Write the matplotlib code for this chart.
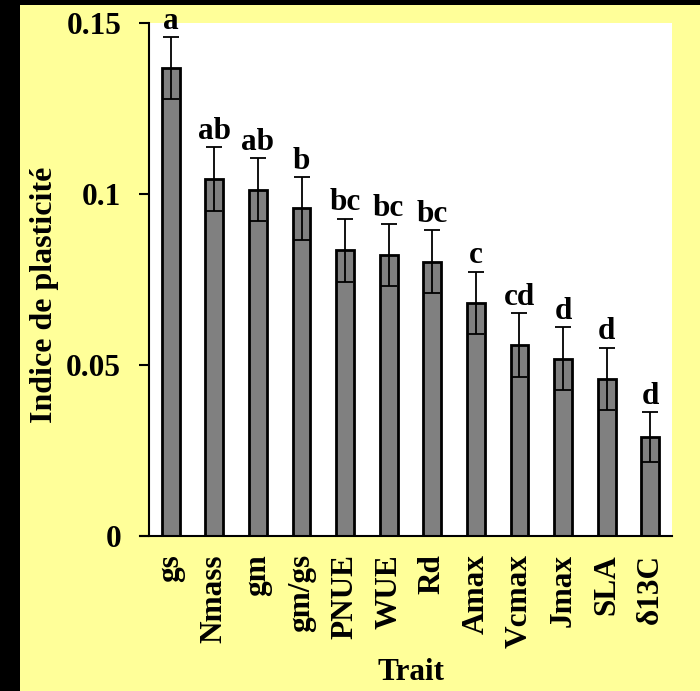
#!/usr/bin/env python3
"""Plasticity index per leaf trait, with Tukey letters above each bar."""

import matplotlib

matplotlib.use("Agg")
import matplotlib.pyplot as plt
import numpy as np
from matplotlib.patches import Rectangle

traits = ["gs", "Nmass", "gm", "gm/gs", "PNUE", "WUE", "Rd",
          "Amax", "Vcmax", "Jmax", "SLA", "δ13C"]
plasticity = [0.1368, 0.1044, 0.1012, 0.0958, 0.0836, 0.0821, 0.0802,
              0.0682, 0.0558, 0.0518, 0.0459, 0.0289]
std_err = [0.0090, 0.0093, 0.0092, 0.0092, 0.0092, 0.0091, 0.0092,
           0.0091, 0.0093, 0.0092, 0.0092, 0.0073]
groups = ["a", "ab", "ab", "b", "bc", "bc", "bc", "c", "cd", "d", "d", "d"]
y_ticks = [0, 0.05, 0.1, 0.15]
y_tick_labels = ["0", "0.05", "0.1", "0.15"]

FONT = "Liberation Serif"
SIZE = 22.5
W, H = 700, 691

plt.rcParams.update({
    "font.family": [FONT, "DejaVu Serif"],
    "font.weight": "bold",
    "axes.labelweight": "bold",
})

fig = plt.figure(figsize=(W / 100, H / 100), dpi=100)
fig.patch.set_facecolor("black")
# pale yellow panel with a black strip along the left and top edges
fig.patches.append(Rectangle((20 / W, 0), 1 - 20 / W, 1 - 5 / H,
                             transform=fig.transFigure, facecolor="#FFFF99",
                             edgecolor="none", zorder=-10))

ax = fig.add_axes([149 / W, 1 - 536 / H, (672 - 149) / W, (536 - 23) / H])
ax.set_facecolor("white")

x = np.arange(len(traits))
ax.bar(x, plasticity, width=0.41, color="#808080", edgecolor="black",
       linewidth=2.0, zorder=2)
ax.errorbar(x, plasticity, yerr=std_err, fmt="none", ecolor="black",
            elinewidth=1.3, capsize=5.5, capthick=1.3, zorder=3)

for xi, val, err, grp in zip(x, plasticity, std_err, groups):
    ax.annotate(grp, (xi, val + err), xytext=(0, 6), textcoords="offset points",
                ha="center", va="baseline", fontsize=SIZE, fontweight="bold",
                annotation_clip=False, zorder=4)

ax.set_xlim(-0.5, len(traits) - 0.5)
ax.set_ylim(0, 0.15)
ax.set_yticks(y_ticks)
ax.set_yticklabels(y_tick_labels)
ax.set_xticks(x)
ax.set_xticklabels(traits, rotation=90, va="top", ha="center")

for lbl in ax.get_xticklabels() + ax.get_yticklabels():
    lbl.set_fontsize(SIZE)
    lbl.set_fontweight("bold")

ax.tick_params(axis="y", direction="out", length=7, width=1.5, pad=13)
ax.tick_params(axis="x", length=0, pad=13)

ax.spines["top"].set_visible(False)
ax.spines["right"].set_visible(False)
ax.spines["left"].set_linewidth(1.5)
ax.spines["bottom"].set_linewidth(1.5)
ax.spines["bottom"].set_bounds(-0.5 - 9 / 43.6, len(traits) - 0.5)

fig.text(45 / W, 1 - 295 / H, "Indice de plasticité", rotation=90,
         ha="center", va="center", fontsize=SIZE + 0.5, fontweight="bold")
fig.text(411 / W, 1 - 672 / H, "Trait", ha="center", va="center",
         fontsize=SIZE, fontweight="bold")

fig.savefig("out.png", dpi=100, facecolor=fig.get_facecolor())
